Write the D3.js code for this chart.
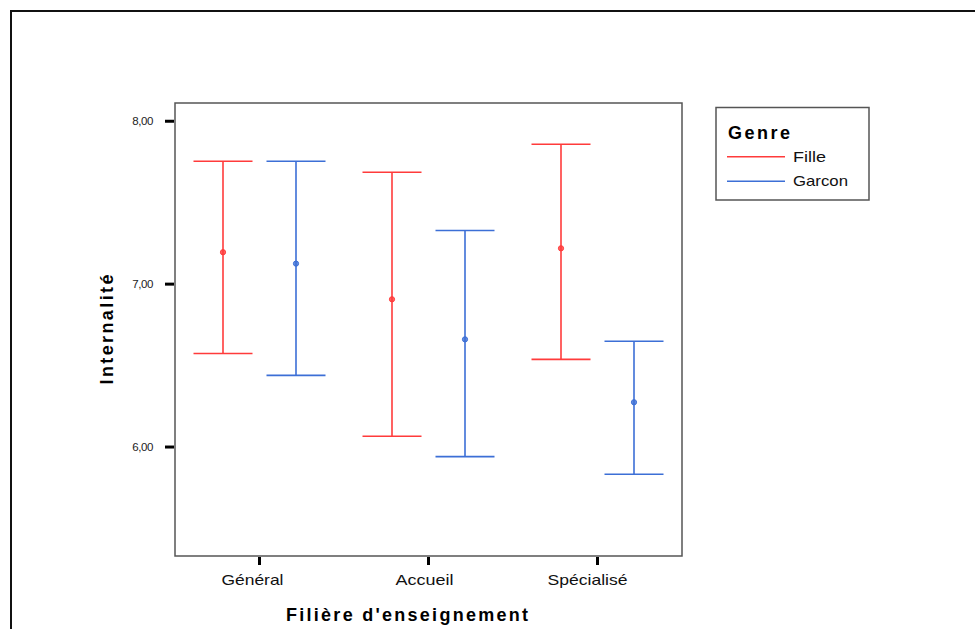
<!DOCTYPE html>
<html>
<head>
<meta charset="utf-8">
<script src="https://cdn.jsdelivr.net/npm/d3@7"></script>
<style>
  html, body { margin: 0; padding: 0; background: #fff; }
  svg { display: block; }
  text { font-family: "Liberation Sans", Arial, sans-serif; }
</style>
</head>
<body>
<svg id="chart" width="975" height="629"></svg>
<script>
// ---- data ----
const categories = ["Général", "Accueil", "Spécialisé"];
const groups = ["Fille", "Garcon"];
const meanFille   = [7.196, 6.907, 7.220];
const upperFille  = [7.754, 7.687, 7.859];
const lowerFille  = [6.574, 6.066, 6.538];
const meanGarcon  = [7.126, 6.661, 6.275];
const upperGarcon = [7.754, 7.329, 6.649];
const lowerGarcon = [6.440, 5.941, 5.833];
const yTicks = [6, 7, 8];
const yTickLabels = ["6,00", "7,00", "8,00"];

const colors = { Fille: "#ff3b3b", Garcon: "#3c6fd6" };

const rows = [];
categories.forEach((c, i) => {
  rows.push({ cat: c, g: "Fille", mean: meanFille[i], lo: lowerFille[i], hi: upperFille[i] });
  rows.push({ cat: c, g: "Garcon", mean: meanGarcon[i], lo: lowerGarcon[i], hi: upperGarcon[i] });
});

const svg = d3.select("#chart");

// outer frame
svg.append("path")
  .attr("d", "M11,629 V11 H975")
  .attr("fill", "none").attr("stroke", "#111").attr("stroke-width", 2);

const plot = { left: 175, right: 682, top: 103, bottom: 556 };

const x = d3.scaleBand().domain(categories).range([plot.left, plot.right]).padding(0);
const xg = d3.scaleBand().domain(groups).range([-73, 73]).padding(0);
const y = d3.scaleLinear().domain([5.331, 8.112]).range([plot.bottom, plot.top]);

// plot frame
svg.append("rect")
  .attr("x", plot.left).attr("y", plot.top)
  .attr("width", plot.right - plot.left).attr("height", plot.bottom - plot.top)
  .attr("fill", "none").attr("stroke", "#555").attr("stroke-width", 1.5);

// y axis ticks
const yAxis = svg.append("g");
yAxis.selectAll("line").data(yTicks).join("line")
  .attr("x1", plot.left - 10).attr("x2", plot.left - 1)
  .attr("y1", d => y(d)).attr("y2", d => y(d))
  .attr("stroke", "#000").attr("stroke-width", 3);
yAxis.selectAll("text").data(yTicks).join("text")
  .attr("x", plot.left - 22).attr("y", d => y(d) + 4)
  .attr("text-anchor", "end")
  .attr("font-size", 11.5).attr("fill", "#222")
  .attr("letter-spacing", -0.4)
  .text((d, i) => yTickLabels[i]);

// x axis ticks
const xAxis = svg.append("g");
const xCenter = d => x(d) + x.bandwidth() / 2;
xAxis.selectAll("line").data(categories).join("line")
  .attr("x1", xCenter).attr("x2", xCenter)
  .attr("y1", plot.bottom + 1).attr("y2", plot.bottom + 9)
  .attr("stroke", "#000").attr("stroke-width", 3);
const xLabelWidths = { "Général": 62, "Accueil": 58, "Spécialisé": 80 };
const xLabelShift = { "Général": -7, "Accueil": -4, "Spécialisé": -10 };
xAxis.selectAll("text").data(categories).join("text")
  .attr("x", d => xCenter(d) + xLabelShift[d] - xLabelWidths[d] / 2)
  .attr("y", 585)
  .attr("font-size", 15).attr("fill", "#111")
  .attr("textLength", d => xLabelWidths[d]).attr("lengthAdjust", "spacingAndGlyphs")
  .text(d => d);

// axis titles
svg.append("text")
  .attr("x", 286).attr("y", 621)
  .attr("font-size", 18).attr("font-weight", "bold").attr("fill", "#000")
  .attr("textLength", 242).attr("lengthAdjust", "spacing")
  .text("Filière d'enseignement");

svg.append("text")
  .attr("transform", `translate(113,${(plot.top + plot.bottom) / 2}) rotate(-90)`)
  .attr("x", -55).attr("y", 0)
  .attr("font-size", 18).attr("font-weight", "bold").attr("fill", "#000")
  .attr("textLength", 110).attr("lengthAdjust", "spacing")
  .text("Internalité");

// error bars
const capHalf = 29.5;
const gx = d => xCenter(d.cat) + xg(d.g) + xg.bandwidth() / 2;
const bars = svg.append("g").selectAll("g").data(rows).join("g")
  .attr("stroke", d => colors[d.g]).attr("stroke-width", 1.6).attr("fill", "none");
bars.append("line")
  .attr("x1", gx).attr("x2", gx)
  .attr("y1", d => y(d.hi)).attr("y2", d => y(d.lo));
bars.append("line")
  .attr("x1", d => gx(d) - capHalf).attr("x2", d => gx(d) + capHalf)
  .attr("y1", d => y(d.hi)).attr("y2", d => y(d.hi));
bars.append("line")
  .attr("x1", d => gx(d) - capHalf).attr("x2", d => gx(d) + capHalf)
  .attr("y1", d => y(d.lo)).attr("y2", d => y(d.lo));
bars.append("circle")
  .attr("cx", gx).attr("cy", d => y(d.mean)).attr("r", 2.6)
  .attr("fill", d => colors[d.g]).attr("fill-opacity", 0.8).attr("stroke-width", 1);

// legend
const lg = svg.append("g");
lg.append("rect")
  .attr("x", 716).attr("y", 107.5).attr("width", 153).attr("height", 92.5)
  .attr("fill", "#fff").attr("stroke", "#555").attr("stroke-width", 1.5);
lg.append("text")
  .attr("x", 728).attr("y", 139)
  .attr("font-size", 18).attr("font-weight", "bold").attr("fill", "#000")
  .attr("textLength", 62).attr("lengthAdjust", "spacing")
  .text("Genre");
const legY = { Fille: 156.7, Garcon: 181.3 };
const legW = { Fille: 33, Garcon: 55 };
groups.forEach(g => {
  lg.append("line")
    .attr("x1", 727).attr("x2", 785)
    .attr("y1", legY[g]).attr("y2", legY[g])
    .attr("stroke", colors[g]).attr("stroke-width", 1.6);
  lg.append("text")
    .attr("x", 793).attr("y", legY[g] + 5)
    .attr("font-size", 14.5).attr("fill", "#111")
    .attr("textLength", legW[g]).attr("lengthAdjust", "spacingAndGlyphs")
    .text(g);
});
</script>
</body>
</html>
